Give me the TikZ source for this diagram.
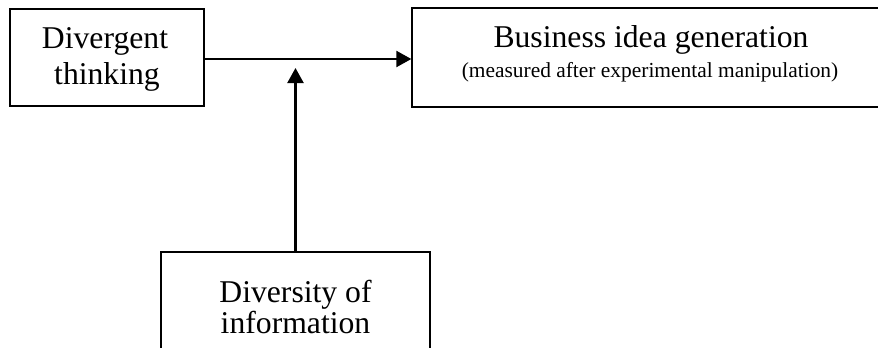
\documentclass[tikz,border=0pt]{standalone}
\usepackage{fontspec}
\setmainfont{Liberation Serif}
\usetikzlibrary{arrows.meta}
\begin{document}
\begin{tikzpicture}[x=1bp,y=-1bp,
  box/.style={draw, line width=1.3bp, inner sep=0pt},
  bigtxt/.style={inner sep=0pt, anchor=base, font=\fontsize{31.8}{36}\selectfont},
  smalltxt/.style={inner sep=0pt, anchor=base, font=\fontsize{21.5}{25}\selectfont},
  conn/.style={line width=2.2bp, -{Triangle[length=15bp,width=16bp]}}]
\useasboundingbox (0,0) rectangle (878,347);
% boxes
\node[box, minimum width=194bp, minimum height=97bp] (b1) at (107,57.5) {};
\node[box, minimum width=476bp, minimum height=99bp] (b2) at (650,57.5) {};
\node[box, minimum width=269bp, minimum height=110bp] (b3) at (295.5,307) {};
% texts
\node[bigtxt] (t1a) at (105,48) {Divergent};
\node[bigtxt] (t1b) at (107,84) {thinking};
\node[bigtxt] (t2a) at (651,47) {Business idea generation};
\node[smalltxt] (t2b) at (650,77) {(measured after experimental manipulation)};
\node[bigtxt] (t3a) at (295.5,302) {Diversity of};
\node[bigtxt] (t3b) at (295.5,333) {information};
% connectors
\coordinate (hy) at (0,59);
\coordinate (vt) at (295.5,68);
\draw[conn] (b1.east |- hy) -- (b2.west |- hy);
\draw[conn] (b3.north) -- (vt);
\end{tikzpicture}
\end{document}
